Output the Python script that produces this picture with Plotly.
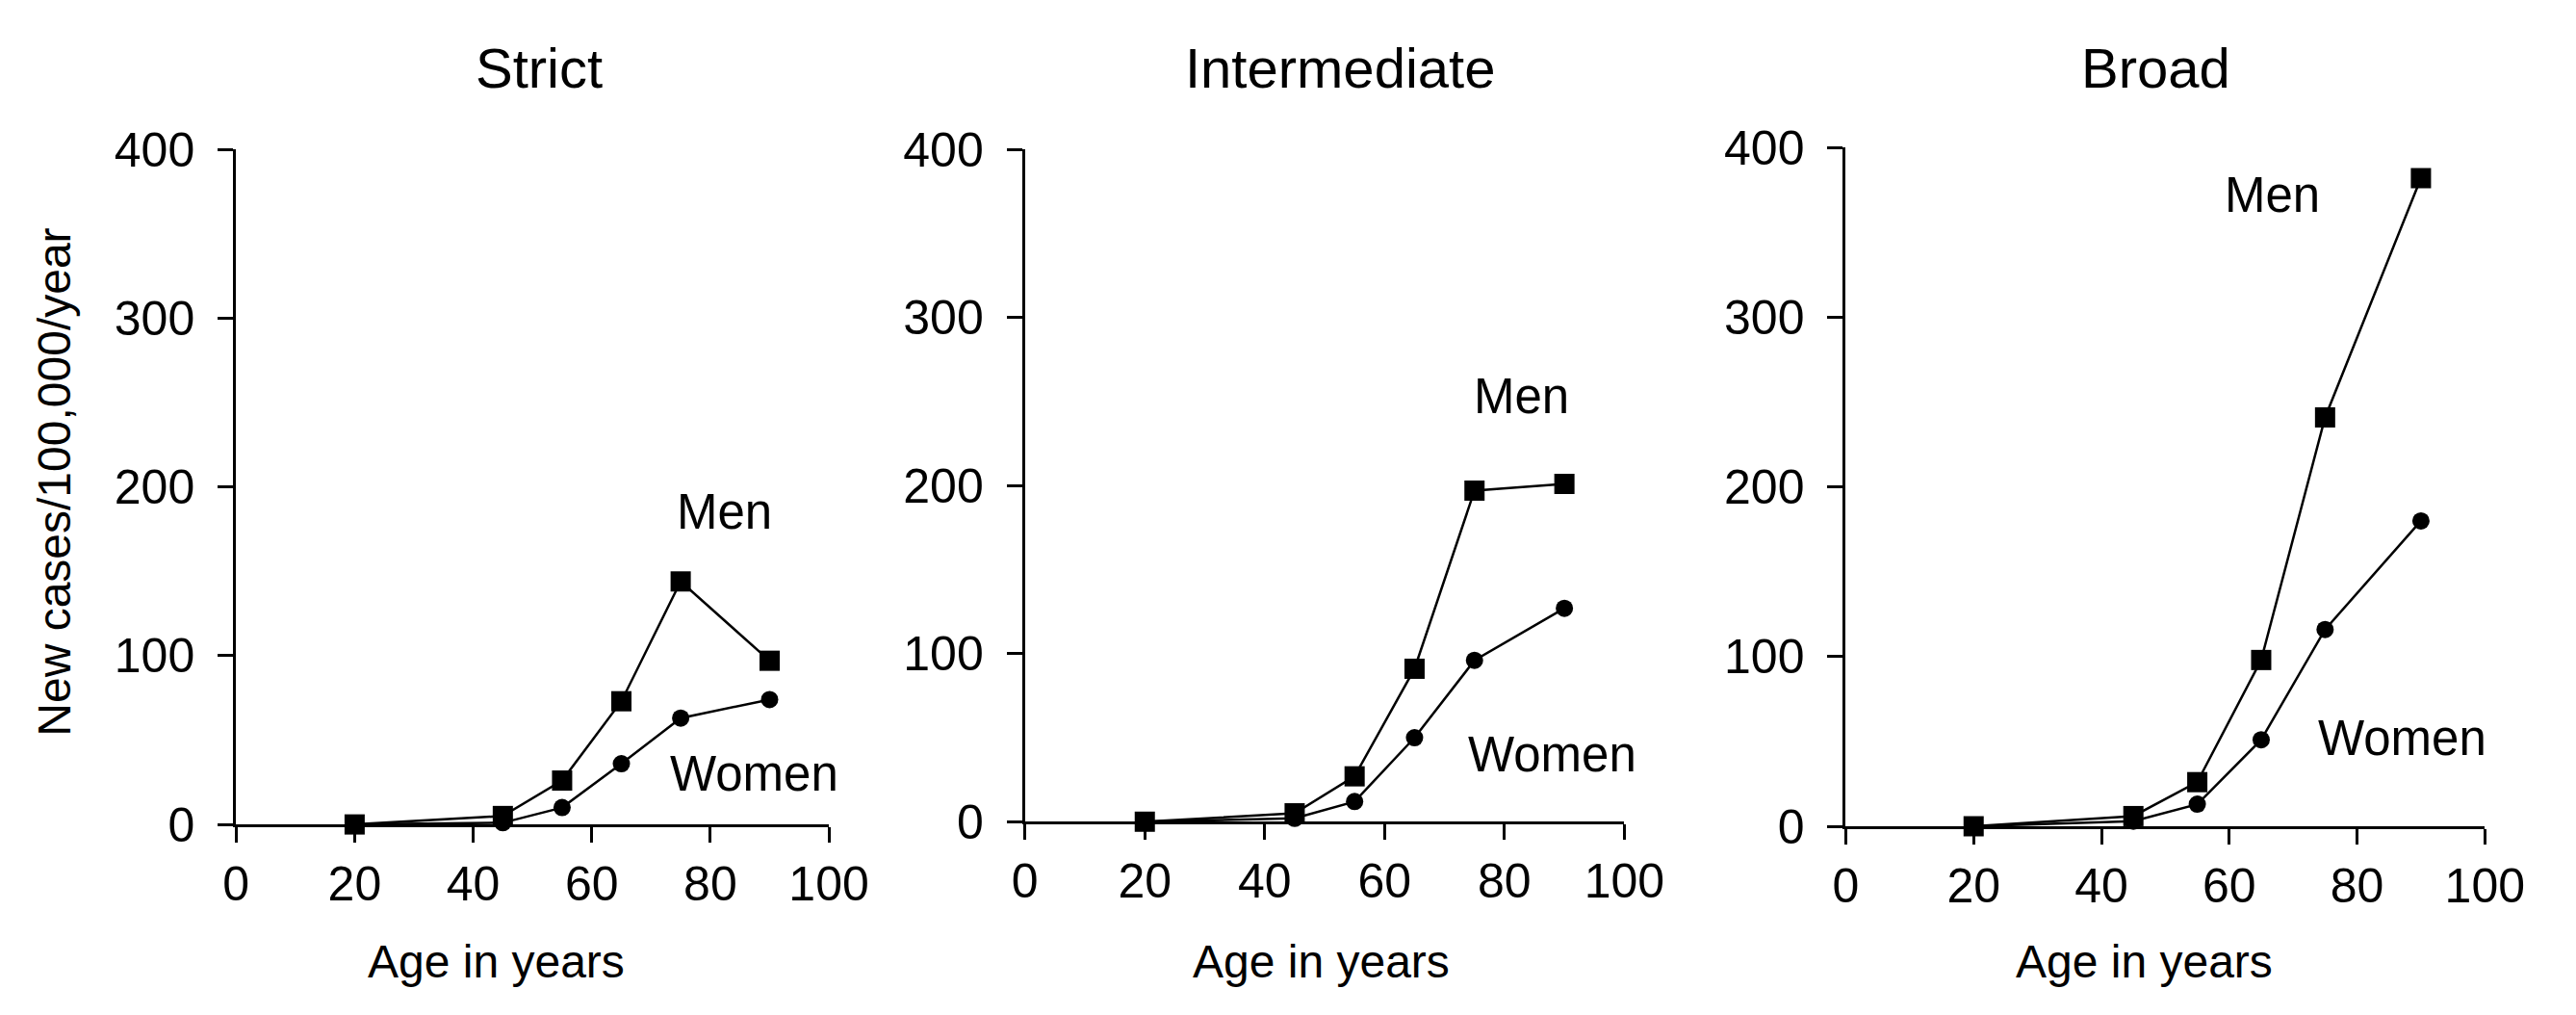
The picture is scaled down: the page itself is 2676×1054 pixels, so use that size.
import plotly.graph_objects as go

# ---- data ----
ages = [20, 45, 55, 65, 75, 90]
strict_men = [0, 5, 26, 73, 144, 97]
strict_women = [0, 1, 10, 36, 63, 74]
inter_men = [0, 5, 27, 91, 197, 201]
inter_women = [0, 2, 12, 50, 96, 127]
broad_men = [0, 6, 26, 98, 241, 382]
broad_women = [0, 3, 13, 51, 116, 180]

panel_titles = ["Strict", "Intermediate", "Broad"]
x_ticks = [0, 20, 40, 60, 80, 100]
y_ticks = [0, 100, 200, 300, 400]
x_title = "Age in years"
y_title = "New cases/100,000/year"
series_names = ["Men", "Women"]

# ---- layout config ----
W, H = 2676, 1054
OFF = 8  # page body margin compensation
FONT = "Liberation Sans, Arial, sans-serif"
# pixel boxes of each plot area in the target picture: (x_left, x_right, y_bottom, y_top)
boxes = [(236, 865, 875, 134), (1073, 1709, 872, 134), (1944, 2622, 877, 132)]
title_x = [557, 1407, 2273]
title_y = 44
xtitle_x = [512, 1387, 2261]
xtitle_y = 1025
ytitle_pos = (43, 499)
label_pos = [
    {"Men": (82.4, 185), "Women": (87.4, 30)},
    {"Men": (82.9, 253), "Women": (87.9, 40)},
    {"Men": (66.7, 372), "Women": (87.1, 52)},
]


def px(x):
    return (x - OFF) / W


def py(y):
    return (H - (y - OFF)) / H


panels = [(strict_men, strict_women), (inter_men, inter_women), (broad_men, broad_women)]

fig = go.Figure()
annotations = []
layout_axes = {}
for i, (men, women) in enumerate(panels):
    sfx = "" if i == 0 else str(i + 1)
    xa, ya = "x" + sfx, "y" + sfx
    fig.add_trace(go.Scatter(x=ages, y=women, mode="lines+markers", name=series_names[1],
                             xaxis=xa, yaxis=ya, cliponaxis=False,
                             line=dict(color="black", width=2.5),
                             marker=dict(symbol="circle", size=18, color="black")))
    fig.add_trace(go.Scatter(x=ages, y=men, mode="lines+markers", name=series_names[0],
                             xaxis=xa, yaxis=ya, cliponaxis=False,
                             line=dict(color="black", width=2.5),
                             marker=dict(symbol="square", size=21, color="black")))
    xl, xr, yb, yt = boxes[i]
    common = dict(showline=True, linecolor="black", linewidth=3, ticks="outside",
                  ticklen=16, tickwidth=3, tickcolor="black", showgrid=False,
                  zeroline=False, tickfont=dict(family=FONT, size=50, color="black"))
    layout_axes["xaxis" + sfx] = dict(common, domain=[px(xl), px(xr)], range=[0, 100],
                                      tickvals=x_ticks, anchor=ya, ticklabelstandoff=0)
    layout_axes["yaxis" + sfx] = dict(common, domain=[py(yb), py(yt)],
                                      range=[0, 400], tickvals=y_ticks, anchor=xa,
                                      ticklabelstandoff=14)
    annotations.append(dict(text=panel_titles[i], x=px(title_x[i]), y=py(title_y),
                            xref="paper", yref="paper", showarrow=False,
                            xanchor="center", yanchor="middle",
                            font=dict(family=FONT, size=58, color="black")))
    annotations.append(dict(text=x_title, x=px(xtitle_x[i]), y=py(xtitle_y),
                            xref="paper", yref="paper", showarrow=False,
                            xanchor="center", yanchor="middle",
                            font=dict(family=FONT, size=48, color="black")))
    for name in series_names:
        lx, ly = label_pos[i][name]
        annotations.append(dict(text=name, x=lx, y=ly, xref=xa, yref=ya,
                                showarrow=False, xanchor="center", yanchor="middle",
                                font=dict(family=FONT, size=51, color="black")))

annotations.append(dict(text=y_title, x=px(ytitle_pos[0]), y=py(ytitle_pos[1]),
                        xref="paper", yref="paper", showarrow=False, textangle=-90,
                        xanchor="center", yanchor="middle",
                        font=dict(family=FONT, size=48, color="black")))

fig.update_layout(width=W, height=H, margin=dict(l=0, r=0, t=0, b=0),
                  paper_bgcolor="white", plot_bgcolor="white", showlegend=False,
                  annotations=annotations, **layout_axes)

fig.write_html("out.html")
